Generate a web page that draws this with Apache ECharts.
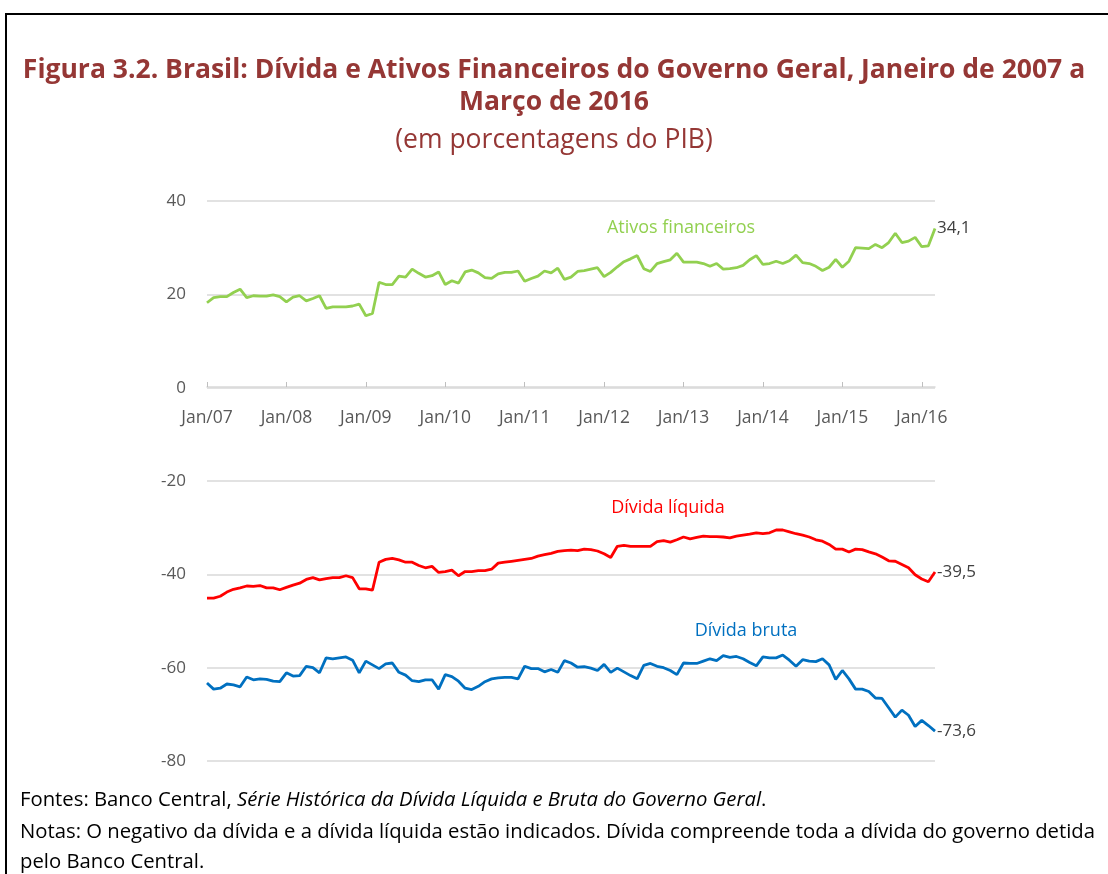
<!DOCTYPE html>
<html>
<head>
<meta charset="utf-8">
<script src="https://cdn.jsdelivr.net/npm/echarts@6/dist/echarts.min.js"></script>
<style>
  html, body { margin: 0; padding: 0; background: #fff; }
  #chart { width: 1108px; height: 874px; }
</style>
</head>
<body>
<div id="chart"></div>
<script>
// meses de Jan/2007 a Mar/2016
var meses = [];
for (var a = 2007; a <= 2016; a++) {
  for (var m = 0; m < 12; m++) {
    if (a === 2016 && m > 2) break;
    meses.push((m === 0 ? 'Jan' : 'M' + (m + 1)) + '/' + String(a).slice(2));
  }
}

// Ativos financeiros (% do PIB)
var ativos = [
  18.2, 19.3, 19.5, 19.5, 20.4, 21.1, 19.3, 19.7, 19.6, 19.6, 19.9, 19.5,
  18.4, 19.4, 19.7, 18.6, 19.1, 19.7, 17.0, 17.3, 17.3, 17.3, 17.5, 17.9,
  15.4, 15.9, 22.6, 22.1, 22.1, 23.9, 23.7, 25.4, 24.5, 23.7, 24.0, 24.8,
  22.1, 22.9, 22.4, 24.8, 25.2, 24.6, 23.6, 23.4, 24.4, 24.7, 24.7, 25.0,
  22.8, 23.4, 23.9, 25.0, 24.6, 25.6, 23.2, 23.7, 24.9, 25.1, 25.4, 25.7,
  23.8, 24.7, 25.9, 27.0, 27.6, 28.3, 25.5, 24.9, 26.6, 27.0, 27.4, 28.8,
  26.9, 26.9, 26.9, 26.6, 26.0, 26.6, 25.4, 25.5, 25.7, 26.2, 27.4, 28.3,
  26.4, 26.6, 27.1, 26.6, 27.2, 28.4, 26.8, 26.6, 26.0, 25.1, 25.8, 27.5,
  25.8, 27.1, 30.0, 29.9, 29.8, 30.7, 30.0, 31.1, 33.1, 31.1, 31.4, 32.2,
  30.2, 30.4, 34.1
];

// Dívida líquida (negativo, % do PIB)
var dividaLiquida = [
  -45.1, -45.1, -44.7, -43.8, -43.2, -42.9, -42.5, -42.6, -42.4, -42.9, -42.9, -43.3,
  -42.8, -42.3, -41.9, -41.1, -40.7, -41.2, -40.9, -40.7, -40.7, -40.3, -40.7, -43.1,
  -43.1, -43.4, -37.4, -36.8, -36.6, -36.9, -37.4, -37.4, -38.1, -38.6, -38.3, -39.6,
  -39.4, -39.1, -40.3, -39.4, -39.4, -39.2, -39.2, -38.9, -37.6, -37.4, -37.2, -37.0,
  -36.8, -36.6, -36.1, -35.8, -35.5, -35.1, -34.9, -34.8, -34.9, -34.6, -34.7, -35.0,
  -35.6, -36.4, -34.0, -33.8, -34.0, -34.0, -34.0, -34.0, -33.0, -32.8, -33.1, -32.6,
  -32.0, -32.4, -32.1, -31.8, -31.9, -31.9, -32.0, -32.2, -31.8, -31.6, -31.4, -31.1,
  -31.3, -31.1, -30.5, -30.5, -30.9, -31.3, -31.6, -32.0, -32.6, -32.9, -33.6, -34.6,
  -34.6, -35.2, -34.6, -34.7, -35.2, -35.6, -36.3, -37.1, -37.2, -37.9, -38.6, -40.1,
  -41.0, -41.6, -39.5
];

// Dívida bruta (negativo, % do PIB)
var dividaBruta = [
  -63.3, -64.6, -64.4, -63.5, -63.7, -64.1, -62.0, -62.6, -62.4, -62.5, -62.9, -63.0,
  -61.1, -61.8, -61.7, -59.7, -60.0, -61.1, -57.9, -58.1, -57.9, -57.7, -58.4, -61.1,
  -58.6, -59.4, -60.2, -59.2, -59.0, -61.0, -61.6, -62.8, -63.0, -62.6, -62.6, -64.6,
  -61.5, -61.9, -62.9, -64.4, -64.7, -64.0, -63.0, -62.4, -62.2, -62.1, -62.1, -62.4,
  -59.7, -60.2, -60.2, -60.9, -60.4, -61.0, -58.5, -59.0, -59.9, -59.8, -60.1, -60.6,
  -59.3, -61.0, -60.1, -60.9, -61.7, -62.4, -59.5, -59.1, -59.7, -60.0, -60.6, -61.5,
  -59.0, -59.1, -59.1, -58.6, -58.1, -58.5, -57.4, -57.8, -57.6, -58.1, -58.9, -59.6,
  -57.7, -57.9, -57.9, -57.3, -58.4, -59.7, -58.3, -58.6, -58.7, -58.1, -59.4, -62.5,
  -60.6, -62.4, -64.6, -64.6, -65.1, -66.5, -66.6, -68.6, -70.6, -69.1, -70.2, -72.6,
  -71.3, -72.4, -73.6
];

var yTicks = { min: -80, max: 40, interval: 20 };

var fonte = '"Open Sans", "Noto Sans", sans-serif';
var fmtVirgula = function (p) { return p.value.toFixed(1).replace('.', ','); };

var chart = echarts.init(document.getElementById('chart'));

function linha(nome, dados, cor) {
  return {
    name: nome,
    type: 'line',
    data: dados,
    symbol: 'none',
    lineStyle: { color: cor, width: 2.8 },
    itemStyle: { color: cor },
    endLabel: {
      show: true,
      formatter: fmtVirgula,
      color: '#404040',
      fontSize: 17,
      fontFamily: fonte,
      distance: 2
    },
    animation: false
  };
}

chart.setOption({
  backgroundColor: '#fff',
  animation: false,
  title: {
    text: 'Figura 3.2. Brasil: Dívida e Ativos Financeiros do Governo Geral, Janeiro de 2007 a\nMarço de 2016',
    subtext: '(em porcentagens do PIB)',
    left: 'center',
    top: 49,
    itemGap: 9,
    textStyle: {
      color: '#953735',
      fontSize: 26.5,
      fontWeight: 'bold',
      fontFamily: fonte,
      lineHeight: 32
    },
    subtextStyle: {
      color: '#953735',
      fontSize: 26.5,
      fontFamily: fonte
    }
  },
  grid: { left: 207, right: 173, top: 201, bottom: 113 },
  xAxis: {
    type: 'category',
    data: meses,
    boundaryGap: false,
    position: 'bottom',
    offset: -374,
    axisLine: { onZero: false, lineStyle: { color: '#d9d9d9', width: 1.5 } },
    axisTick: { show: true, inside: true, length: 5, interval: 11, lineStyle: { color: '#bfbfbf' } },
    axisLabel: { interval: 11, color: '#595959', fontSize: 17.5, fontFamily: fonte, margin: 22 },
    splitLine: { show: false }
  },
  yAxis: {
    type: 'value',
    min: yTicks.min,
    max: yTicks.max,
    interval: yTicks.interval,
    axisLine: { show: false },
    axisTick: { show: false },
    axisLabel: { color: '#595959', fontSize: 17, fontFamily: fonte, margin: 21 },
    splitLine: { lineStyle: { color: '#d9d9d9', width: 1.5 } }
  },
  series: [
    linha('Ativos financeiros', ativos, '#92d050'),
    linha('Dívida líquida', dividaLiquida, '#ff0000'),
    linha('Dívida bruta', dividaBruta, '#0070c0')
  ],
  graphic: [
    {
      type: 'rect',
      shape: { x: 6, y: 14, width: 1200, height: 1000 },
      style: { fill: 'none', stroke: '#000', lineWidth: 2 },
      silent: true
    },
    {
      type: 'text', x: 681, y: 228,
      style: { text: 'Ativos financeiros', fill: '#92d050', fontSize: 18, fontFamily: fonte, align: 'center', verticalAlign: 'middle' }
    },
    {
      type: 'text', x: 668, y: 508,
      style: { text: 'Dívida líquida', fill: '#ff0000', fontSize: 18, fontFamily: fonte, align: 'center', verticalAlign: 'middle' }
    },
    {
      type: 'text', x: 746, y: 631,
      style: { text: 'Dívida bruta', fill: '#0070c0', fontSize: 18, fontFamily: fonte, align: 'center', verticalAlign: 'middle' }
    },
    {
      type: 'text', x: 20, y: 800,
      style: {
        text: 'Fontes: Banco Central, {i|Série Histórica da Dívida Líquida e Bruta do Governo Geral}.',
        fill: '#000', fontSize: 20.3, fontFamily: fonte, verticalAlign: 'middle',
        rich: { i: { fontStyle: 'italic', fontSize: 20.3, fontFamily: fonte, fill: '#000' } }
      }
    },
    {
      type: 'text', x: 20, y: 832,
      style: {
        text: 'Notas: O negativo da dívida e a dívida líquida estão indicados. Dívida compreende toda a dívida do governo detida',
        fill: '#000', fontSize: 20.3, fontFamily: fonte, verticalAlign: 'middle'
      }
    },
    {
      type: 'text', x: 20, y: 862,
      style: { text: 'pelo Banco Central.', fill: '#000', fontSize: 20.3, fontFamily: fonte, verticalAlign: 'middle' }
    }
  ]
});
</script>
</body>
</html>
